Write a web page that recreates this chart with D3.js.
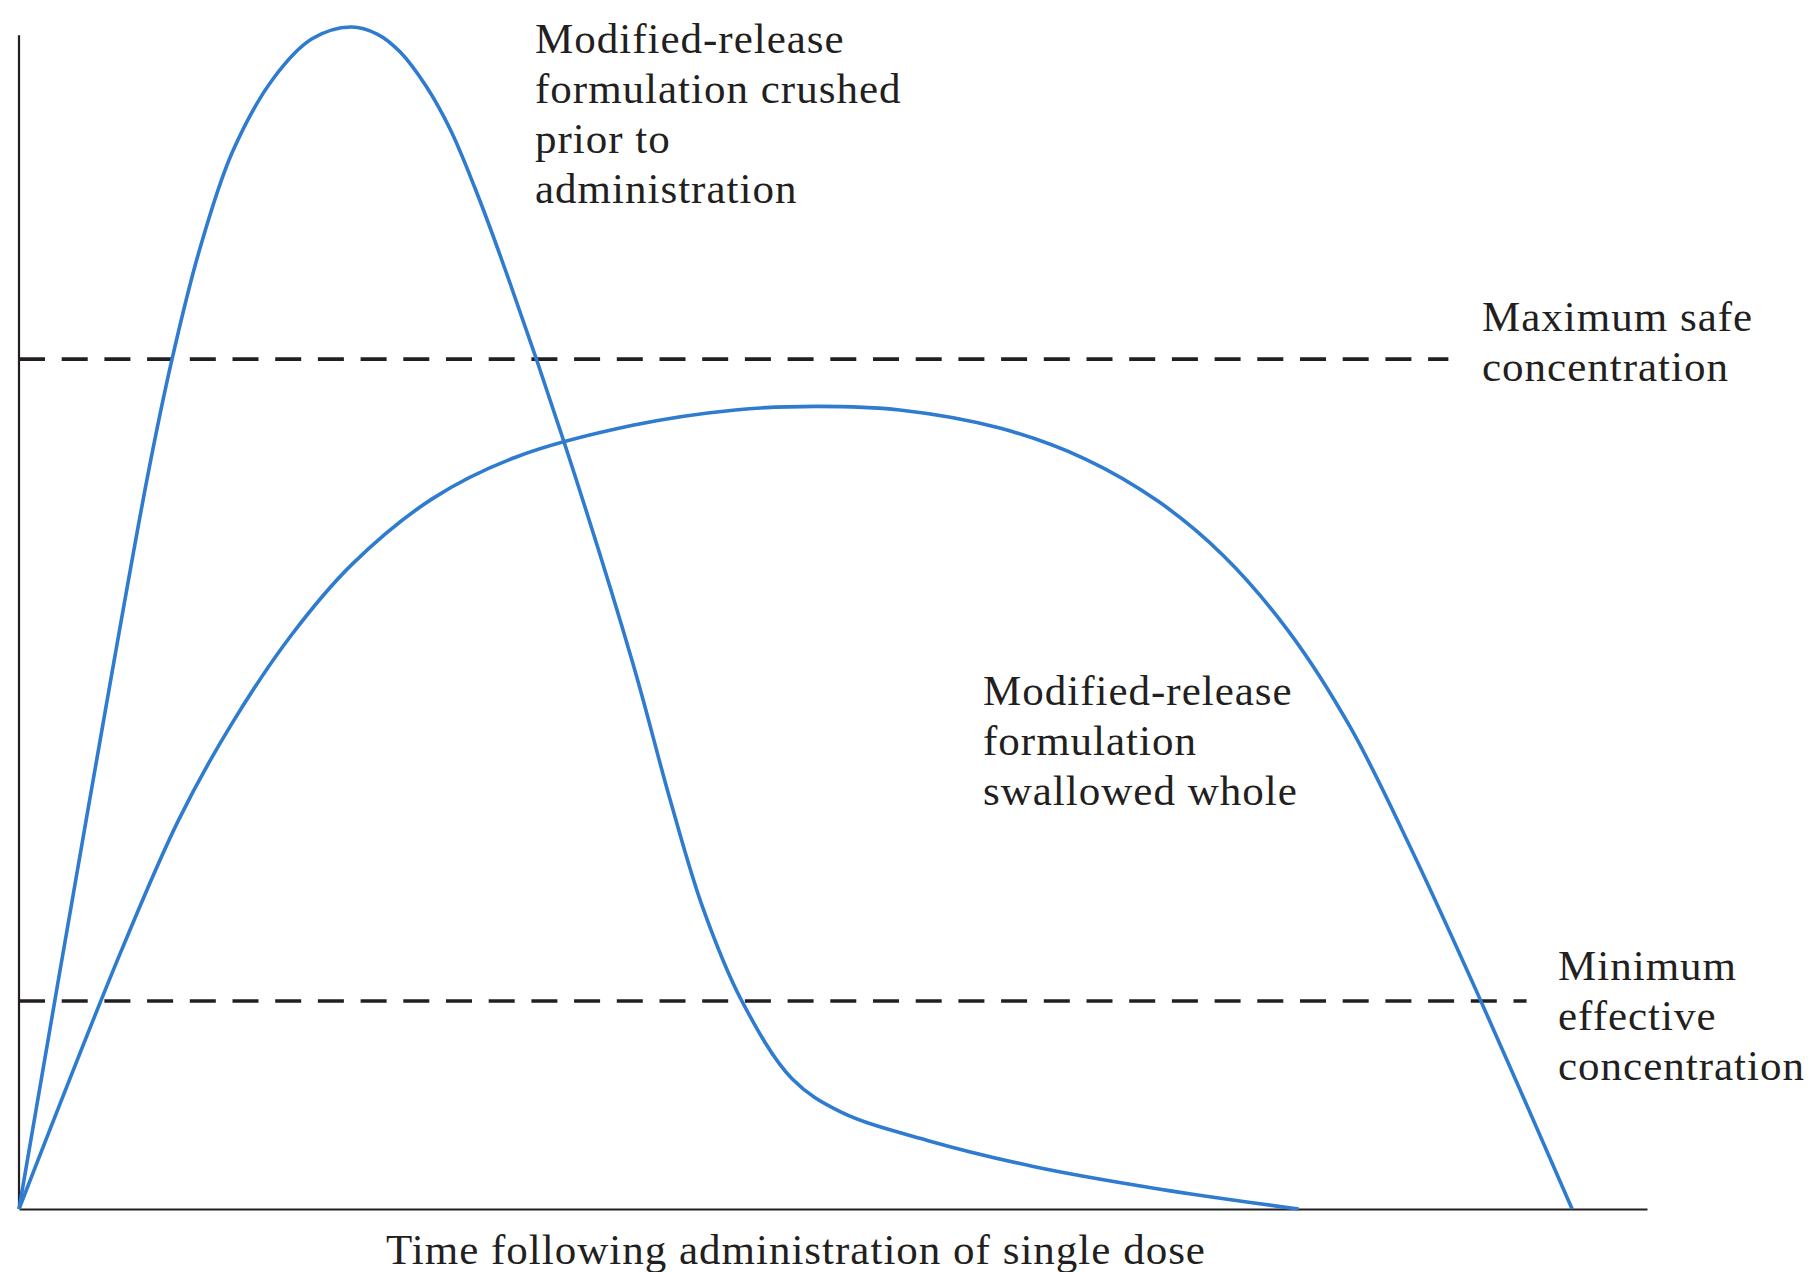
<!DOCTYPE html>
<html>
<head>
<meta charset="utf-8">
<script src="https://cdn.jsdelivr.net/npm/d3@7"></script>
<style>
  body { margin: 0; background: #fff; }
  text { font-family: "Liberation Serif", "Times New Roman", serif; fill: #231f20; }
</style>
</head>
<body>
<div id="chart"></div>
<script>
// time after a single dose (0-100) and plasma concentration (0-100)
var crushedTime = [0, 4.2, 7.9, 9.4, 11.1, 13.1, 15.6, 18.0, 20.4,
  22.0, 23.4, 25.0, 26.5, 28.0, 29.6, 33.5, 37.7, 40.0, 42.0, 44.4, 47.5, 50.5, 55.8, 62.3, 70.0, 78.6];
var crushedConc = [0, 33.5, 62.0, 71.9, 81.2, 89.4, 95.6, 99.0, 100,
  99.4, 97.9, 95.0, 91.3, 86.4, 80.5, 64.8, 46.2, 34.6, 25.5, 17.6, 11.0, 8.2, 5.8, 3.6, 1.7, 0];

var wholeTime = [0, 6.3, 9.8, 13.0, 16.7, 20.5, 25.4, 30.5, 37.7, 44.0, 49.0, 54.1,
  60.3, 65.5, 70.0, 74.0, 78.0, 81.8, 85.5, 89.6, 95.4];
var wholeConc = [0, 21.9, 32.9, 40.9, 48.5, 54.6, 60.1, 63.6, 66.3, 67.6, 67.9, 67.6,
  66.05, 63.45, 59.85, 55.25, 48.85, 40.7, 30.5, 18.2, 0];

var thresholdNames = ["Maximum safe concentration", "Minimum effective concentration"];
var thresholdValues = [71.9, 17.6];

var svgWidth = 1816;
var svgHeight = 1272;

var svg = d3.select("#chart")
  .append("svg")
  .attr("width", svgWidth)
  .attr("height", svgHeight)
  .style("background", "#fff");

var xScale = d3.scaleLinear().domain([0, 100]).range([19, 1647]);
var yScale = d3.scaleLinear().domain([0, 100]).range([1209, 27]);

// axes: plain lines, no ticks
svg.append("g")
  .attr("transform", `translate(0, ${yScale(0)})`)
  .call(d3.axisBottom(xScale).tickValues([]).tickSizeOuter(0))
  .select(".domain")
  .attr("stroke", "#231f20")
  .attr("stroke-width", 2.2);

svg.append("line")
  .attr("x1", xScale(0))
  .attr("x2", xScale(0))
  .attr("y1", yScale(0))
  .attr("y2", yScale(99.3))
  .attr("stroke", "#231f20")
  .attr("stroke-width", 2.2);

// threshold lines (dashed)
var thresholdEnd = [87.8, 92.6];
svg.selectAll(".threshold")
  .data(thresholdValues)
  .enter()
  .append("line")
  .attr("class", "threshold")
  .attr("x1", xScale(0))
  .attr("x2", (d, i) => xScale(thresholdEnd[i]))
  .attr("y1", d => yScale(d))
  .attr("y2", d => yScale(d))
  .attr("stroke", "#231f20")
  .attr("stroke-width", 3.6)
  .attr("stroke-dasharray", "26,16.7");

// concentration curves
var line = d3.line()
  .x(d => xScale(d[0]))
  .y(d => yScale(d[1]))
  .curve(d3.curveCatmullRom.alpha(0.5));

var crushed = crushedTime.map((t, i) => [t, crushedConc[i]]);
var whole = wholeTime.map((t, i) => [t, wholeConc[i]]);

[crushed, whole].forEach(function(series) {
  svg.append("path")
    .datum(series)
    .attr("d", line)
    .attr("fill", "none")
    .attr("stroke", "#2e7bcf")
    .attr("stroke-width", 3.6)
    .attr("stroke-linejoin", "round");
});

// labels
function addLabel(lines, x, y0) {
  var t = svg.append("text")
    .attr("x", x)
    .attr("y", y0)
    .style("font-size", "43px")
    .style("letter-spacing", "1px");
  lines.forEach(function(s, i) {
    t.append("tspan")
      .attr("x", x)
      .attr("y", y0 + i * 50)
      .text(s);
  });
}

addLabel(["Modified-release", "formulation crushed", "prior to", "administration"], 535, 53);
addLabel(["Modified-release", "formulation", "swallowed whole"], 983, 705);
addLabel(["Maximum safe", "concentration"], 1482, 331);
addLabel(["Minimum", "effective", "concentration"], 1558, 980);

svg.append("text")
  .attr("x", 386)
  .attr("y", 1264)
  .style("font-size", "43px")
  .style("letter-spacing", "1px")
  .text("Time following administration of single dose");
</script>
</body>
</html>
